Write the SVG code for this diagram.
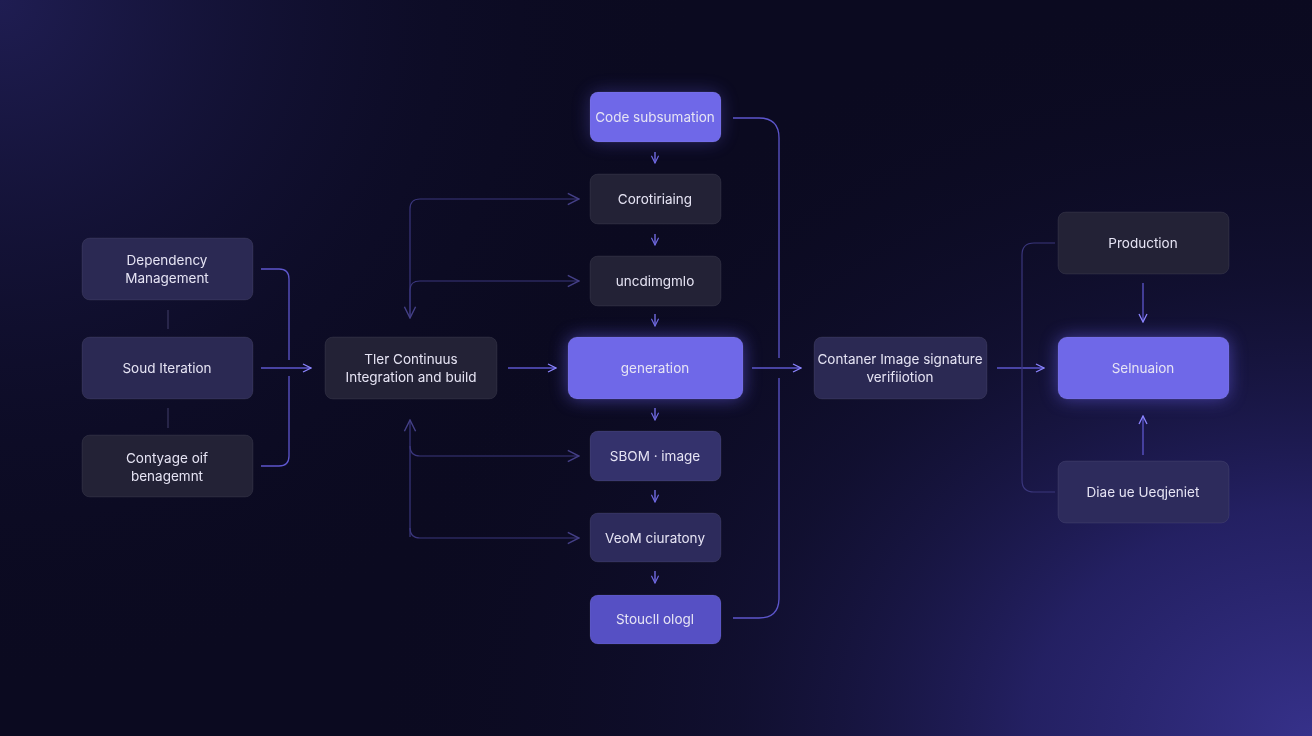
<svg xmlns="http://www.w3.org/2000/svg" width="1312" height="736" viewBox="0 0 1312 736">
<defs>
<radialGradient id="bgTL" cx="0" cy="0" r="700" gradientUnits="userSpaceOnUse">
<stop offset="0" stop-color="#1f1d52"/>
<stop offset="0.6" stop-color="#0f0e2c" stop-opacity="0.6"/>
<stop offset="1" stop-color="#0b0a20" stop-opacity="0"/>
</radialGradient>
<radialGradient id="bgBR" cx="1312" cy="736" r="950" gradientUnits="userSpaceOnUse" gradientTransform="translate(1312 736) scale(1 0.8) translate(-1312 -736)">
<stop offset="0" stop-color="#36318a"/>
<stop offset="0.3" stop-color="#28246e" stop-opacity="0.85"/>
<stop offset="0.6" stop-color="#171540" stop-opacity="0.5"/>
<stop offset="1" stop-color="#0b0a20" stop-opacity="0"/>
</radialGradient>
<filter id="glow" x="-40%" y="-60%" width="180%" height="220%">
<feGaussianBlur stdDeviation="9"/>
</filter>
<marker id="ah" viewBox="0 0 10 10" refX="9" refY="5" markerWidth="10" markerHeight="10" markerUnits="userSpaceOnUse" orient="auto">
<path d="M1 1 L9 5 L1 9" fill="none" stroke="#8c85ff" stroke-width="1.3"/>
</marker>
<marker id="ahs" viewBox="0 0 10 10" refX="9" refY="5" markerWidth="9" markerHeight="9" markerUnits="userSpaceOnUse" orient="auto">
<path d="M1 1 L9 5 L1 9" fill="none" stroke="#6f68e0" stroke-width="1.3"/>
</marker>
<marker id="ahd" viewBox="0 0 10 10" refX="9" refY="5" markerWidth="14" markerHeight="14" markerUnits="userSpaceOnUse" orient="auto">
<path d="M1 1 L9 5 L1 9" fill="none" stroke="#454088" stroke-width="1"/>
</marker>
</defs>
<style>
.box{stroke:#ffffff;stroke-opacity:0.07;stroke-width:1}
.dark{fill:#232236}
.mid{fill:#2b2953}
.sbom{fill:#34326c}
.veo{fill:#2d2b5c}
.stk{fill:#5650c4}
.bright{fill:#6f68e8}
.t{font-family:Inter,"Liberation Sans",sans-serif;font-size:13.5px;fill:#e6e4f4;text-anchor:middle}
.c{fill:none;stroke:#5d56cc;stroke-width:1.3}
.cd{fill:none;stroke:#3a367c;stroke-width:1.2}
.cs{fill:none;stroke:#7a73f0;stroke-width:1.3}
.tick{stroke:#3a3760;stroke-width:1.2}
</style>
<rect width="1312" height="736" fill="#0b0a20"/>
<rect width="1312" height="736" fill="url(#bgTL)"/>
<rect width="1312" height="736" fill="url(#bgBR)"/>

<g id="glows" filter="url(#glow)" opacity="0.55">
<rect x="568" y="337" width="175" height="62" rx="9" fill="#6a62f0"/>
<rect x="1058" y="337" width="171" height="62" rx="9" fill="#6a62f0"/>
<rect x="590" y="92" width="131" height="50" rx="9" fill="#6a62f0" opacity="0.6"/>
</g>

<g id="connectors">
<line class="tick" x1="168" y1="310" x2="168" y2="329"/>
<line class="tick" x1="168" y1="408" x2="168" y2="428"/>
<path class="c" d="M261 269 H279 Q289 269 289 279 V360"/>
<path class="c" d="M261 466 H279 Q289 466 289 456 V376"/>
<line class="c" x1="261" y1="368" x2="311" y2="368" marker-end="url(#ah)"/>
<line class="c" x1="508" y1="368" x2="556" y2="368" marker-end="url(#ah)"/>
<path class="cd" d="M410 317 V209 Q410 199 420 199 H579" marker-end="url(#ahd)"/>
<path class="cd" d="M410 290 Q410 281 420 281 H579" marker-end="url(#ahd)"/>
<path class="cd" d="M410 290 V318" marker-end="url(#ahd)"/>
<path class="cd" d="M410 537 V420" marker-end="url(#ahd)"/>
<path class="cd" d="M410 446 Q410 456 420 456 H579" marker-end="url(#ahd)"/>
<path class="cd" d="M410 528 Q410 538 420 538 H579" marker-end="url(#ahd)"/>
<line class="cs" x1="655" y1="152" x2="655" y2="163" marker-end="url(#ahs)"/>
<line class="cs" x1="655" y1="234" x2="655" y2="245" marker-end="url(#ahs)"/>
<line class="cs" x1="655" y1="314" x2="655" y2="326" marker-end="url(#ahs)"/>
<line class="cs" x1="655" y1="408" x2="655" y2="420" marker-end="url(#ahs)"/>
<line class="cs" x1="655" y1="490" x2="655" y2="502" marker-end="url(#ahs)"/>
<line class="cs" x1="655" y1="571" x2="655" y2="583" marker-end="url(#ahs)"/>
<path class="c" d="M733 118 H759 Q779 118 779 138 V358"/>
<path class="c" d="M733 618 H759 Q779 618 779 598 V378"/>
<line class="c" x1="752" y1="368" x2="801" y2="368" marker-end="url(#ah)"/>
<line class="c" x1="997" y1="368" x2="1044" y2="368" marker-end="url(#ah)"/>
<path class="cd" d="M1055 243 H1034 Q1022 243 1022 255 V480 Q1022 492 1034 492 H1055"/>
<line class="c" x1="1143" y1="283" x2="1143" y2="322" marker-end="url(#ah)"/>
<line class="c" x1="1143" y1="455" x2="1143" y2="416" marker-end="url(#ah)"/>
</g>

<g id="dependency-management">
<rect class="box mid" x="82" y="238" width="171" height="62" rx="8"/>
<text class="t" x="167" y="265">Dependency</text>
<text class="t" x="167" y="283">Management</text>
</g>
<g id="soud-iteration">
<rect class="box mid" x="82" y="337" width="171" height="62" rx="8"/>
<text class="t" x="167" y="373">Soud Iteration</text>
</g>
<g id="contyage">
<rect class="box dark" x="82" y="435" width="171" height="62" rx="8"/>
<text class="t" x="167" y="463">Contyage oif</text>
<text class="t" x="167" y="481">benagemnt</text>
</g>
<g id="ci-build">
<rect class="box dark" x="325" y="337" width="172" height="62" rx="8"/>
<text class="t" x="411" y="364">Tler Continuus</text>
<text class="t" x="411" y="382">Integration and build</text>
</g>
<g id="code-subsumation">
<rect class="box bright" x="590" y="92" width="131" height="50" rx="8"/>
<text class="t" x="655" y="122">Code subsumation</text>
</g>
<g id="corotiriaing">
<rect class="box dark" x="590" y="174" width="131" height="50" rx="8"/>
<text class="t" x="655" y="204">Corotiriaing</text>
</g>
<g id="uncdimgmlo">
<rect class="box dark" x="590" y="256" width="131" height="50" rx="8"/>
<text class="t" x="655" y="286">uncdimgmlo</text>
</g>
<g id="generation">
<rect class="box bright" x="568" y="337" width="175" height="62" rx="9"/>
<text class="t" x="655" y="373">generation</text>
</g>
<g id="sbom-image">
<rect class="box sbom" x="590" y="431" width="131" height="50" rx="8"/>
<text class="t" x="655" y="461">SBOM · image</text>
</g>
<g id="veom">
<rect class="box veo" x="590" y="513" width="131" height="49" rx="8"/>
<text class="t" x="655" y="543">VeoM ciuratony</text>
</g>
<g id="stoucll">
<rect class="box stk" x="590" y="595" width="131" height="49" rx="8"/>
<text class="t" x="655" y="624">Stoucll ologl</text>
</g>
<g id="container-verification">
<rect class="box mid" x="814" y="337" width="173" height="62" rx="8"/>
<text class="t" x="900" y="364">Contaner Image signature</text>
<text class="t" x="900" y="382">verifiiotion</text>
</g>
<g id="production">
<rect class="box dark" x="1058" y="212" width="171" height="62" rx="8"/>
<text class="t" x="1143" y="248">Production</text>
</g>
<g id="selnuaion">
<rect class="box bright" x="1058" y="337" width="171" height="62" rx="9"/>
<text class="t" x="1143" y="373">Selnuaion</text>
</g>
<g id="diae">
<rect class="box veo" x="1058" y="461" width="171" height="62" rx="8"/>
<text class="t" x="1143" y="497">Diae ue Ueqjeniet</text>
</g>
</svg>
